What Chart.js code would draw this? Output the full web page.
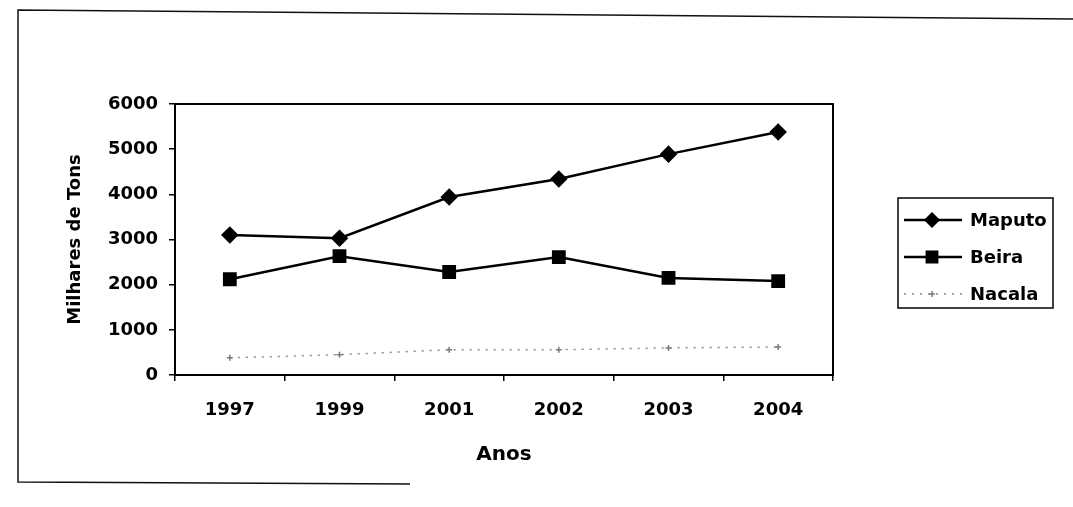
<!DOCTYPE html>
<html>
<head>
<meta charset="utf-8">
<script src="https://cdn.jsdelivr.net/npm/chart.js@4.4.0/dist/chart.umd.min.js"></script>
<style>
  html, body { margin: 0; padding: 0; background: #fff; }
  canvas { display: block; }
</style>
</head>
<body>
<canvas id="portosChart" width="1073" height="507"></canvas>
<script>
// dados (milhares de toneladas)
const anos = ["1997", "1999", "2001", "2002", "2003", "2004"];
const maputo = [3100, 3030, 3940, 4340, 4890, 5380];
const beira = [2120, 2630, 2280, 2610, 2150, 2080];
const nacala = [380, 450, 560, 560, 600, 620];
const seriesNomes = ["Maputo", "Beira", "Nacala"];
const yMax = 6000;
const yPasso = 1000;

const FONT = "'DejaVu Sans', Arial, sans-serif";

// moldura da página digitalizada + borda da área do gráfico
const molduraPlugin = {
    id: "moldura",
    beforeDraw(chart) {
        const c = chart.ctx;
        c.save();
        c.fillStyle = "#fff";
        c.fillRect(0, 0, chart.width, chart.height);
        c.strokeStyle = "#111";
        c.lineWidth = 1.5;
        c.beginPath();
        c.moveTo(1073, 19);
        c.lineTo(18, 10);
        c.lineTo(18, 482);
        c.lineTo(410, 484);
        c.stroke();
        c.restore();
    },
    afterDraw(chart) {
        const a = chart.chartArea;
        const c = chart.ctx;
        c.save();
        c.strokeStyle = "#000";
        c.lineWidth = 2;
        c.strokeRect(a.left, a.top, a.right - a.left, a.bottom - a.top);
        c.restore();
    }
};

// legenda com caixa, como no original
const legendaPlugin = {
    id: "legendaCaixa",
    afterDraw(chart) {
        const c = chart.ctx;
        const box = { x: 898, y: 198, w: 155, h: 110 };
        c.save();
        c.strokeStyle = "#000";
        c.lineWidth = 1.5;
        c.strokeRect(box.x, box.y, box.w, box.h);
        c.font = "bold 18px " + FONT;
        c.textBaseline = "middle";
        chart.data.datasets.forEach((ds, i) => {
            const y = box.y + 22 + i * 37;
            c.save();
            c.strokeStyle = ds.borderColor;
            c.lineWidth = ds.borderWidth;
            c.setLineDash(ds.borderDash || []);
            c.beginPath();
            c.moveTo(box.x + 6, y);
            c.lineTo(box.x + 64, y);
            c.stroke();
            c.restore();
            c.fillStyle = ds.pointBackgroundColor;
            c.strokeStyle = ds.pointBorderColor;
            Chart.helpers.drawPoint(c, {
                pointStyle: ds.pointStyle,
                radius: ds.pointRadius,
                rotation: 0,
                borderWidth: 1
            }, box.x + 34, y);
            c.fillStyle = "#000";
            c.fillText(ds.label, box.x + 72, y + 1);
        });
        c.restore();
    }
};

const ctx = document.getElementById("portosChart").getContext("2d");

new Chart(ctx, {
    type: "line",
    data: {
        labels: anos,
        datasets: [
            {
                label: seriesNomes[0],
                data: maputo,
                borderColor: "#000",
                backgroundColor: "#000",
                pointBackgroundColor: "#000",
                pointBorderColor: "#000",
                borderWidth: 2.5,
                pointStyle: "rectRot",
                pointRadius: 7,
                tension: 0
            },
            {
                label: seriesNomes[1],
                data: beira,
                borderColor: "#000",
                backgroundColor: "#000",
                pointBackgroundColor: "#000",
                pointBorderColor: "#000",
                borderWidth: 2.5,
                pointStyle: "rect",
                pointRadius: 8,
                tension: 0
            },
            {
                label: seriesNomes[2],
                data: nacala,
                borderColor: "#8a8a8a",
                backgroundColor: "#8a8a8a",
                pointBackgroundColor: "#7a7a7a",
                pointBorderColor: "#7a7a7a",
                borderWidth: 1.5,
                borderDash: [2, 6],
                pointStyle: "cross",
                pointRadius: 3,
                tension: 0
            }
        ]
    },
    options: {
        responsive: false,
        animation: false,
        devicePixelRatio: 1,
        layout: {
            padding: { left: 0, top: 104, right: 240, bottom: 0 }
        },
        plugins: {
            legend: { display: false },
            tooltip: { enabled: false },
            title: { display: false }
        },
        scales: {
            x: {
                offset: true,
                afterFit: (scale) => { scale.height = 132; },
                grid: {
                    offset: true,
                    drawOnChartArea: false,
                    drawTicks: true,
                    tickLength: 6,
                    color: "#000",
                    lineWidth: 1.5
                },
                border: { display: true, color: "#000", width: 2 },
                ticks: {
                    color: "#000",
                    padding: 19,
                    maxRotation: 0,
                    font: { family: FONT, size: 18, weight: "bold" }
                },
                title: {
                    display: true,
                    text: "Anos",
                    color: "#000",
                    padding: { top: 0, bottom: 40 },
                    font: { family: FONT, size: 20, weight: "bold" }
                }
            },
            y: {
                min: 0,
                max: yMax,
                afterFit: (scale) => { scale.width = 175; },
                grid: {
                    drawOnChartArea: false,
                    drawTicks: true,
                    tickLength: 6,
                    color: "#000",
                    lineWidth: 1.5
                },
                border: { display: true, color: "#000", width: 2 },
                ticks: {
                    stepSize: yPasso,
                    color: "#000",
                    padding: 11,
                    font: { family: FONT, size: 18, weight: "bold" },
                    callback: (v) => String(v)
                },
                title: {
                    display: true,
                    text: "Milhares de Tons",
                    color: "#000",
                    padding: { top: 65, bottom: 0 },
                    font: { family: FONT, size: 18, weight: "bold" }
                }
            }
        }
    },
    plugins: [molduraPlugin, legendaPlugin]
});
</script>
</body>
</html>
